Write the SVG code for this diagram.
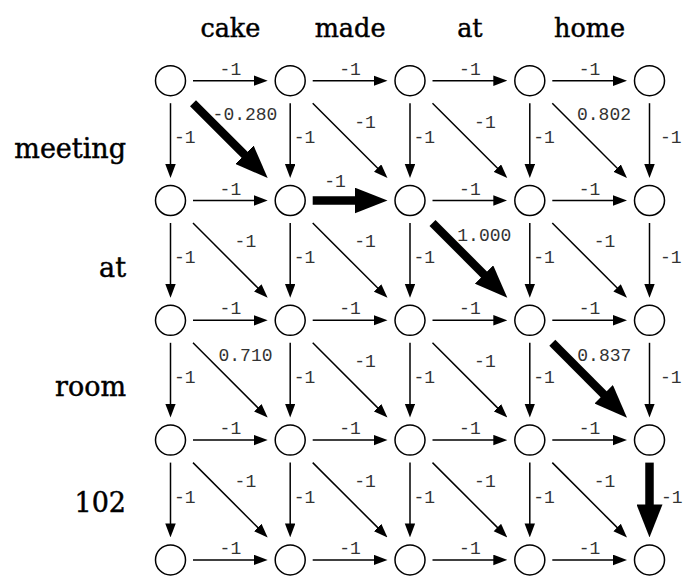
<svg xmlns="http://www.w3.org/2000/svg" width="686" height="576" viewBox="0 0 686 576">
  <style>
    .node circle { fill: #fff; stroke: #000; stroke-width: 1.5; }
    .edge { stroke: #000; stroke-width: 1.5; fill: none; marker-end: url(#head); }
    .edge.best { stroke-width: 8.5; marker-end: url(#head-best); }
    .w { font-family: "Liberation Mono", "Courier New", monospace; font-size: 18px; fill: #333; }
    .mid { text-anchor: middle; }
    .col { font-family: "DejaVu Serif", "Liberation Serif", serif; font-size: 25.5px; fill: #000; stroke: #000; stroke-width: 0.45; text-anchor: middle; }
    .row { font-family: "DejaVu Serif", "Liberation Serif", serif; font-size: 27px; fill: #000; stroke: #000; stroke-width: 0.45; text-anchor: end; }
  </style>
  <defs>
    <marker id="head" markerUnits="userSpaceOnUse" markerWidth="14" markerHeight="11" refX="2" refY="5.25" orient="auto">
      <path d="M0,0 L14,5.25 L0,10.5 Z" fill="#000"/>
    </marker>
    <marker id="head-best" markerUnits="userSpaceOnUse" markerWidth="33" markerHeight="26" refX="2" refY="13" orient="auto">
      <path d="M0,0 L33,13 L0,26 Z" fill="#000"/>
    </marker>
  </defs>
  <rect width="686" height="576" fill="#fff"/>

  <!-- column words -->
  <g id="col-labels">
    <text class="col" x="230.4" y="36.7">cake</text>
    <text class="col" x="350.1" y="36.7">made</text>
    <text class="col" x="469.9" y="36.7">at</text>
    <text class="col" x="589.6" y="36.7">home</text>
  </g>

  <!-- row words -->
  <g id="row-labels">
    <text class="row" x="126" y="157.5">meeting</text>
    <text class="row" x="126" y="276.5">at</text>
    <text class="row" x="126" y="396">room</text>
    <text class="row" x="126" y="512">102</text>
  </g>

  <!-- connectors -->
  <g id="edges">
    <!-- horizontal -->
    <line class="edge" x1="193" y1="80.7" x2="255.7" y2="80.7"/>
    <line class="edge" x1="312.7" y1="80.7" x2="375.5" y2="80.7"/>
    <line class="edge" x1="432.5" y1="80.7" x2="495.3" y2="80.7"/>
    <line class="edge" x1="552.3" y1="80.7" x2="615" y2="80.7"/>

    <line class="edge" x1="193" y1="200.5" x2="255.7" y2="200.5"/>
    <line class="edge best" x1="312.7" y1="200.5" x2="356.5" y2="200.5"/>
    <line class="edge" x1="432.5" y1="200.5" x2="495.3" y2="200.5"/>
    <line class="edge" x1="552.3" y1="200.5" x2="615" y2="200.5"/>

    <line class="edge" x1="193" y1="320.3" x2="255.7" y2="320.3"/>
    <line class="edge" x1="312.7" y1="320.3" x2="375.5" y2="320.3"/>
    <line class="edge" x1="432.5" y1="320.3" x2="495.3" y2="320.3"/>
    <line class="edge" x1="552.3" y1="320.3" x2="615" y2="320.3"/>

    <line class="edge" x1="193" y1="440.1" x2="255.7" y2="440.1"/>
    <line class="edge" x1="312.7" y1="440.1" x2="375.5" y2="440.1"/>
    <line class="edge" x1="432.5" y1="440.1" x2="495.3" y2="440.1"/>
    <line class="edge" x1="552.3" y1="440.1" x2="615" y2="440.1"/>

    <line class="edge" x1="193" y1="559.9" x2="255.7" y2="559.9"/>
    <line class="edge" x1="312.7" y1="559.9" x2="375.5" y2="559.9"/>
    <line class="edge" x1="432.5" y1="559.9" x2="495.3" y2="559.9"/>
    <line class="edge" x1="552.3" y1="559.9" x2="615" y2="559.9"/>

    <!-- vertical -->
    <line class="edge" x1="170.5" y1="103.2" x2="170.5" y2="166"/>
    <line class="edge" x1="290.2" y1="103.2" x2="290.2" y2="166"/>
    <line class="edge" x1="410" y1="103.2" x2="410" y2="166"/>
    <line class="edge" x1="529.8" y1="103.2" x2="529.8" y2="166"/>
    <line class="edge" x1="649.5" y1="103.2" x2="649.5" y2="166"/>

    <line class="edge" x1="170.5" y1="223" x2="170.5" y2="285.8"/>
    <line class="edge" x1="290.2" y1="223" x2="290.2" y2="285.8"/>
    <line class="edge" x1="410" y1="223" x2="410" y2="285.8"/>
    <line class="edge" x1="529.8" y1="223" x2="529.8" y2="285.8"/>
    <line class="edge" x1="649.5" y1="223" x2="649.5" y2="285.8"/>

    <line class="edge" x1="170.5" y1="342.8" x2="170.5" y2="405.6"/>
    <line class="edge" x1="290.2" y1="342.8" x2="290.2" y2="405.6"/>
    <line class="edge" x1="410" y1="342.8" x2="410" y2="405.6"/>
    <line class="edge" x1="529.8" y1="342.8" x2="529.8" y2="405.6"/>
    <line class="edge" x1="649.5" y1="342.8" x2="649.5" y2="405.6"/>

    <line class="edge" x1="170.5" y1="462.6" x2="170.5" y2="525.4"/>
    <line class="edge" x1="290.2" y1="462.6" x2="290.2" y2="525.4"/>
    <line class="edge" x1="410" y1="462.6" x2="410" y2="525.4"/>
    <line class="edge" x1="529.8" y1="462.6" x2="529.8" y2="525.4"/>
    <line class="edge best" x1="649.5" y1="462.6" x2="649.5" y2="506.4"/>

    <!-- diagonal -->
    <line class="edge best" x1="193" y1="103.2" x2="245.8" y2="156.1"/>
    <line class="edge" x1="312.7" y1="103.2" x2="379" y2="169.5"/>
    <line class="edge" x1="432.5" y1="103.2" x2="498.8" y2="169.5"/>
    <line class="edge" x1="552.3" y1="103.2" x2="618.5" y2="169.5"/>

    <line class="edge" x1="193" y1="223" x2="259.2" y2="289.3"/>
    <line class="edge" x1="312.7" y1="223" x2="379" y2="289.3"/>
    <line class="edge best" x1="432.5" y1="223" x2="485.4" y2="275.9"/>
    <line class="edge" x1="552.3" y1="223" x2="618.5" y2="289.3"/>

    <line class="edge" x1="193" y1="342.8" x2="259.2" y2="409.1"/>
    <line class="edge" x1="312.7" y1="342.8" x2="379" y2="409.1"/>
    <line class="edge" x1="432.5" y1="342.8" x2="498.8" y2="409.1"/>
    <line class="edge best" x1="552.3" y1="342.8" x2="605.1" y2="395.7"/>

    <line class="edge" x1="193" y1="462.6" x2="259.2" y2="528.9"/>
    <line class="edge" x1="312.7" y1="462.6" x2="379" y2="528.9"/>
    <line class="edge" x1="432.5" y1="462.6" x2="498.8" y2="528.9"/>
    <line class="edge" x1="552.3" y1="462.6" x2="618.5" y2="528.9"/>
  </g>

  <!-- connector weights -->
  <g id="edge-labels">
    <!-- horizontal -->
    <text class="w mid" x="230.4" y="74.7">-1</text>
    <text class="w mid" x="350.1" y="74.7">-1</text>
    <text class="w mid" x="469.9" y="74.7">-1</text>
    <text class="w mid" x="589.6" y="74.7">-1</text>

    <text class="w mid" x="230.4" y="194.5">-1</text>
    <text class="w mid" x="335" y="187.3">-1</text>
    <text class="w mid" x="469.9" y="194.5">-1</text>
    <text class="w mid" x="589.6" y="194.5">-1</text>

    <text class="w mid" x="230.4" y="314.3">-1</text>
    <text class="w mid" x="350.1" y="314.3">-1</text>
    <text class="w mid" x="469.9" y="314.3">-1</text>
    <text class="w mid" x="589.6" y="314.3">-1</text>

    <text class="w mid" x="230.4" y="434.1">-1</text>
    <text class="w mid" x="350.1" y="434.1">-1</text>
    <text class="w mid" x="469.9" y="434.1">-1</text>
    <text class="w mid" x="589.6" y="434.1">-1</text>

    <text class="w mid" x="230.4" y="553.9">-1</text>
    <text class="w mid" x="350.1" y="553.9">-1</text>
    <text class="w mid" x="469.9" y="553.9">-1</text>
    <text class="w mid" x="589.6" y="553.9">-1</text>

    <!-- vertical -->
    <text class="w" x="174" y="143.1">-1</text>
    <text class="w" x="293.7" y="143.1">-1</text>
    <text class="w" x="413.5" y="143.1">-1</text>
    <text class="w" x="533.3" y="143.1">-1</text>
    <text class="w" x="660" y="143.1">-1</text>

    <text class="w" x="174" y="262.9">-1</text>
    <text class="w" x="293.7" y="262.9">-1</text>
    <text class="w" x="413.5" y="262.9">-1</text>
    <text class="w" x="533.3" y="262.9">-1</text>
    <text class="w" x="660" y="262.9">-1</text>

    <text class="w" x="174" y="382.7">-1</text>
    <text class="w" x="293.7" y="382.7">-1</text>
    <text class="w" x="413.5" y="382.7">-1</text>
    <text class="w" x="533.3" y="382.7">-1</text>
    <text class="w" x="660" y="382.7">-1</text>

    <text class="w" x="174" y="502.5">-1</text>
    <text class="w" x="293.7" y="502.5">-1</text>
    <text class="w" x="413.5" y="502.5">-1</text>
    <text class="w" x="533.3" y="502.5">-1</text>
    <text class="w" x="661" y="502.5">-1</text>

    <!-- diagonal -->
    <text class="w mid" x="245" y="120">-0.280</text>
    <text class="w mid" x="365.1" y="127.6">-1</text>
    <text class="w mid" x="484.9" y="127.6">-1</text>
    <text class="w mid" x="604" y="120">0.802</text>

    <text class="w mid" x="245.4" y="247.4">-1</text>
    <text class="w mid" x="365.1" y="247.4">-1</text>
    <text class="w mid" x="484.3" y="240.7">1.000</text>
    <text class="w mid" x="604.6" y="247.4">-1</text>

    <text class="w mid" x="245.5" y="360.7">0.710</text>
    <text class="w mid" x="365.1" y="367.2">-1</text>
    <text class="w mid" x="484.9" y="367.2">-1</text>
    <text class="w mid" x="604.3" y="360.7">0.837</text>

    <text class="w mid" x="245.4" y="487">-1</text>
    <text class="w mid" x="365.1" y="487">-1</text>
    <text class="w mid" x="484.9" y="487">-1</text>
    <text class="w mid" x="604.6" y="487">-1</text>
  </g>

  <!-- lattice nodes -->
  <g id="node-0-0" class="node"><circle cx="170.5" cy="80.7" r="15"/></g>
  <g id="node-0-1" class="node"><circle cx="290.2" cy="80.7" r="15"/></g>
  <g id="node-0-2" class="node"><circle cx="410" cy="80.7" r="15"/></g>
  <g id="node-0-3" class="node"><circle cx="529.8" cy="80.7" r="15"/></g>
  <g id="node-0-4" class="node"><circle cx="649.5" cy="80.7" r="15"/></g>

  <g id="node-1-0" class="node"><circle cx="170.5" cy="200.5" r="15"/></g>
  <g id="node-1-1" class="node"><circle cx="290.2" cy="200.5" r="15"/></g>
  <g id="node-1-2" class="node"><circle cx="410" cy="200.5" r="15"/></g>
  <g id="node-1-3" class="node"><circle cx="529.8" cy="200.5" r="15"/></g>
  <g id="node-1-4" class="node"><circle cx="649.5" cy="200.5" r="15"/></g>

  <g id="node-2-0" class="node"><circle cx="170.5" cy="320.3" r="15"/></g>
  <g id="node-2-1" class="node"><circle cx="290.2" cy="320.3" r="15"/></g>
  <g id="node-2-2" class="node"><circle cx="410" cy="320.3" r="15"/></g>
  <g id="node-2-3" class="node"><circle cx="529.8" cy="320.3" r="15"/></g>
  <g id="node-2-4" class="node"><circle cx="649.5" cy="320.3" r="15"/></g>

  <g id="node-3-0" class="node"><circle cx="170.5" cy="440.1" r="15"/></g>
  <g id="node-3-1" class="node"><circle cx="290.2" cy="440.1" r="15"/></g>
  <g id="node-3-2" class="node"><circle cx="410" cy="440.1" r="15"/></g>
  <g id="node-3-3" class="node"><circle cx="529.8" cy="440.1" r="15"/></g>
  <g id="node-3-4" class="node"><circle cx="649.5" cy="440.1" r="15"/></g>

  <g id="node-4-0" class="node"><circle cx="170.5" cy="559.9" r="15"/></g>
  <g id="node-4-1" class="node"><circle cx="290.2" cy="559.9" r="15"/></g>
  <g id="node-4-2" class="node"><circle cx="410" cy="559.9" r="15"/></g>
  <g id="node-4-3" class="node"><circle cx="529.8" cy="559.9" r="15"/></g>
  <g id="node-4-4" class="node"><circle cx="649.5" cy="559.9" r="15"/></g>
</svg>
